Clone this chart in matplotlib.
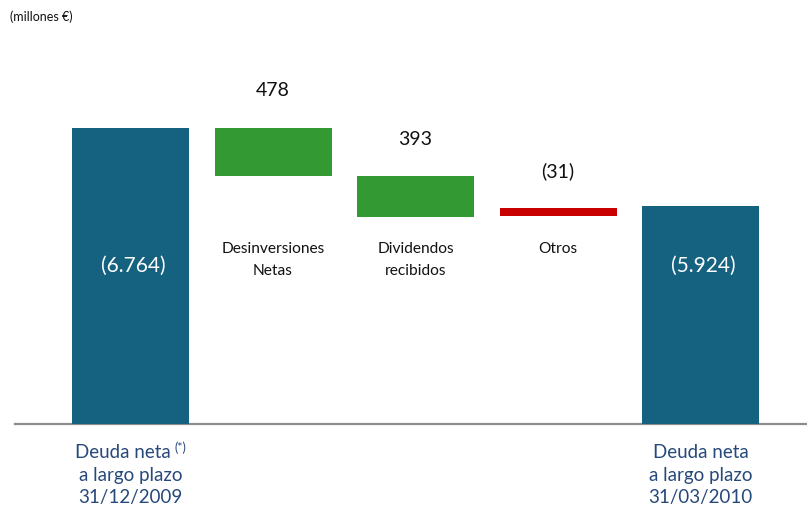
import matplotlib
matplotlib.use("Agg")
import matplotlib.pyplot as plt
import matplotlib.transforms as mtransforms

# ---------------- data ----------------
categories = ["Deuda neta", "Desinversiones\nNetas", "Dividendos\nrecibidos", "Otros", "Deuda neta"]
bottom_sub = ["a largo plazo\n31/12/2009", "", "", "", "a largo plazo\n31/03/2010"]
value_labels = ["(6.764)", "478", "393", "(31)", "(5.924)"]
kinds = ["total", "up", "up", "down", "total"]
# drawn extents as they appear in the picture (chart is not drawn to scale)
bar_bottom = [0, 5660, 4735, 4745, 0]
bar_top = [6764, 6764, 5660, 4930, 4975]

# ---------------- style ----------------
BLUE = "#146180"
GREEN = "#339933"
RED = "#C80000"
TXT_BLUE = "#27497A"
colors = {"total": BLUE, "up": GREEN, "down": RED}
FONT = ["Lato", "DejaVu Sans"]
plt.rcParams["font.family"] = FONT

W, H = 807, 508
fig = plt.figure(figsize=(W / 100, H / 100), dpi=100)
ax = fig.add_axes([0, 0, 1, 1])
ax.axis("off")

step = 142.5          # pixels between bar centres
first_c = 130.5       # pixel of first bar centre
base_px = 424         # pixel row of the baseline
k = bar_top[0] / (base_px - 128)  # units per pixel
ax.set_xlim(-first_c / step, (W - first_c) / step)
ax.set_ylim(-(H - base_px) * k, base_px * k)

xs = list(range(len(categories)))
heights = [t - b for t, b in zip(bar_top, bar_bottom)]
ax.bar(xs, heights, bottom=bar_bottom, width=117 / step,
       color=[colors[kd] for kd in kinds], zorder=3)

ax.axhline(0, xmin=15 / W, xmax=1, color="#8C8C8C", lw=1.6, zorder=2)

blend = mtransforms.blended_transform_factory(ax.transData, ax.transAxes)

def fy(px):
    return 1 - px / H

for i, (kd, lab, cat) in enumerate(zip(kinds, value_labels, categories)):
    if kd == "total":
        ax.text(i + 3 / step, fy(266), lab, transform=blend, ha="center", va="center",
                color="white", fontsize=15, zorder=4)
        # bottom labels
        lines = [cat] + bottom_sub[i].split("\n")
        for j, ln in enumerate(lines):
            dx = -8 if (i == 0 and j == 0) else 0
            t = ax.annotate(ln, xy=(i, fy(452 + 23 * j)), xycoords=blend,
                            xytext=(dx, 0), textcoords="offset pixels",
                            ha="center", va="center", color=TXT_BLUE, fontsize=13.5)
            if i == 0 and j == 0:
                ax.annotate("(*)", xy=(1, 1), xycoords=t, xytext=(4, 2),
                            textcoords="offset pixels", ha="left", va="top",
                            color=TXT_BLUE, fontsize=9)
    else:
        ax.annotate(lab, xy=(i, bar_top[i]), xytext=(0, 37), textcoords="offset pixels",
                    ha="center", va="center", fontsize=14, color="#111111")
        ax.text(i, fy(242), cat, transform=blend, ha="center", va="top",
                fontsize=11.2, color="#111111", linespacing=1.7)

fig.text(10 / W, fy(17), "(millones €)", ha="left", va="center", fontsize=9, color="#111111")

fig.savefig("out.png", dpi=100)
